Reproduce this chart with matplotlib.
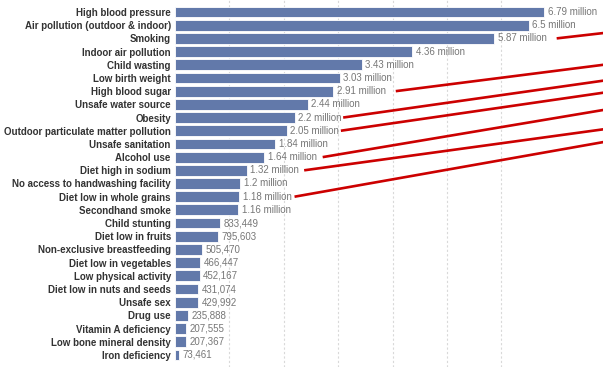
import matplotlib
matplotlib.use("Agg")
import matplotlib.pyplot as plt
from matplotlib.lines import Line2D

plt.rcParams["font.family"] = ["Liberation Sans", "DejaVu Sans"]

# Deaths attributed to each risk factor
risk_factors = [
    "High blood pressure",
    "Air pollution (outdoor & indoor)",
    "Smoking",
    "Indoor air pollution",
    "Child wasting",
    "Low birth weight",
    "High blood sugar",
    "Unsafe water source",
    "Obesity",
    "Outdoor particulate matter pollution",
    "Unsafe sanitation",
    "Alcohol use",
    "Diet high in sodium",
    "No access to handwashing facility",
    "Diet low in whole grains",
    "Secondhand smoke",
    "Child stunting",
    "Diet low in fruits",
    "Non-exclusive breastfeeding",
    "Diet low in vegetables",
    "Low physical activity",
    "Diet low in nuts and seeds",
    "Unsafe sex",
    "Drug use",
    "Vitamin A deficiency",
    "Low bone mineral density",
    "Iron deficiency",
]
deaths = [
    6790000, 6500000, 5870000, 4360000, 3430000, 3030000, 2910000,
    2440000, 2200000, 2050000, 1840000, 1640000, 1320000, 1200000,
    1180000, 1160000, 833449, 795603, 505470, 466447, 452167,
    431074, 429992, 235888, 207555, 207367, 73461,
]
grid_ticks = [1, 2, 3, 4, 5, 6]

# Factors whose labels carry a pointer line to the right margin
highlighted = [
    "Smoking", "High blood sugar", "Obesity",
    "Outdoor particulate matter pollution", "Alcohol use",
    "Diet high in sodium", "Diet low in whole grains",
]


def fmt(v):
    if v >= 1_000_000:
        return f"{v / 1e6:g} million"
    return f"{v:,}"


W, H = 603, 367
fig = plt.figure(figsize=(W / 100, H / 100), dpi=100)
ax = fig.add_axes([175 / W, 0, 1 - 175 / W, 1])

values_m = [v / 1e6 for v in deaths]
ypos = list(range(len(risk_factors)))
ax.barh(ypos, values_m, height=0.82, color="#6279aa",
        edgecolor="white", linewidth=0.6, zorder=2)

n = len(risk_factors)
ax.set_ylim(n - 1 + 0.91, -0.91)
ax.set_xlim(0, (W - 175) / 54.4)

for g in grid_ticks:
    ax.axvline(g, color="#d9d9d9", lw=0.8, ls=(0, (2, 2)), zorder=1)

for s in ax.spines.values():
    s.set_visible(False)
ax.set_xticks([])
ax.set_yticks(ypos)
ax.set_yticklabels(risk_factors, fontsize=7.0, fontweight="bold",
                   color="#333333")
ax.tick_params(axis="y", length=0, pad=3)

value_texts = {}
for name, y, v, vm in zip(risk_factors, ypos, deaths, values_m):
    t = ax.annotate(fmt(v), xy=(vm, y), xytext=(2.5, 0),
                    textcoords="offset points", va="center", ha="left",
                    fontsize=7.0, color="#777777")
    value_texts[name] = t

# Pointer lines running from selected labels off the right edge
fig.canvas.draw()
renderer = fig.canvas.get_renderer()
gaps_px = [10, 10, 1.5, 2, 6, 5, 3]
end_px = [31.7, 63.3, 79, 91, 108, 127.7, 140]
for name, gap, ye in zip(highlighted, gaps_px, end_px):
    bb = value_texts[name].get_window_extent(renderer)
    idx = risk_factors.index(name)
    yc = ax.transData.transform((0, idx))[1]
    x0 = (bb.x1 + gap) / W
    y0 = yc / H
    fig.add_artist(Line2D([x0, 1.02], [y0, 1 - ye / H],
                          color="#cc0000", lw=1.9,
                          solid_capstyle="butt"))

fig.savefig("out.png", dpi=100)
